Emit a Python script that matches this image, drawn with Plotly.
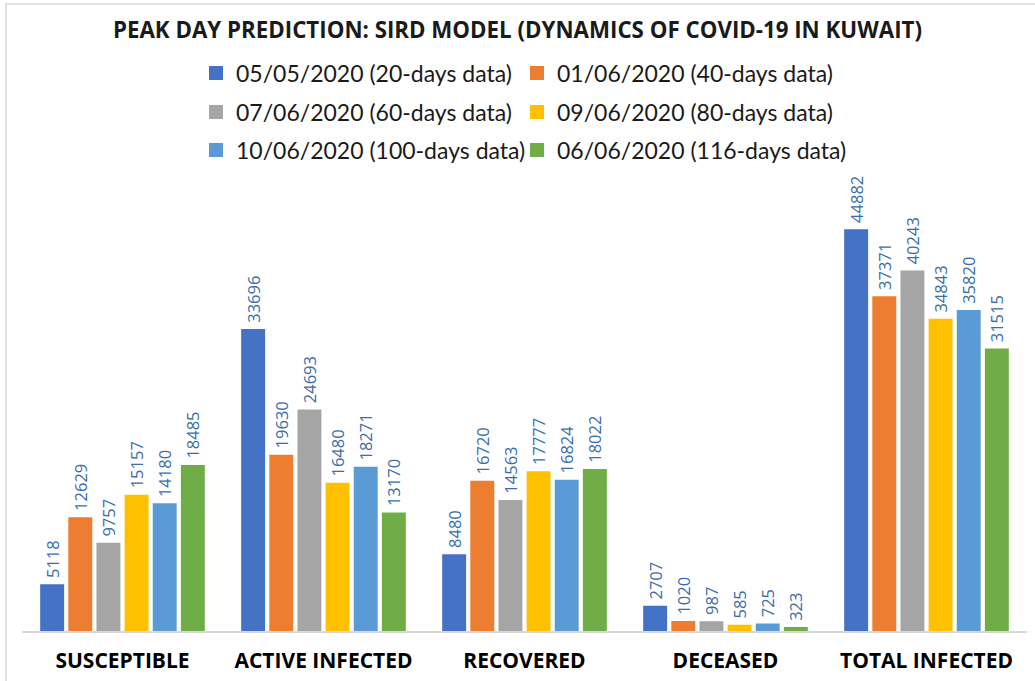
import plotly.graph_objects as go

categories = ["SUSCEPTIBLE", "ACTIVE INFECTED", "RECOVERED", "DECEASED", "TOTAL INFECTED"]
series_names = [
    "05/05/2020 (20-days data)",
    "01/06/2020 (40-days data)",
    "07/06/2020 (60-days data)",
    "09/06/2020 (80-days data)",
    "10/06/2020 (100-days data)",
    "06/06/2020 (116-days data)",
]
s20 = [5118, 33696, 8480, 2707, 44882]
s40 = [12629, 19630, 16720, 1020, 37371]
s60 = [9757, 24693, 14563, 987, 40243]
s80 = [15157, 16480, 17777, 585, 34843]
s100 = [14180, 18271, 16824, 725, 35820]
s116 = [18485, 13170, 18022, 323, 31515]
series_values = [s20, s40, s60, s80, s100, s116]
colors = ["#4472C4", "#ED7D31", "#A5A5A5", "#FFC000", "#5B9BD5", "#70AD47"]
legend_ids = ["legend", "legend2", "legend3", "legend4", "legend5", "legend6"]

fig = go.Figure()
for name, vals, col, lg in zip(series_names, series_values, colors, legend_ids):
    fig.add_trace(go.Bar(
        name=name, x=categories, y=vals,
        marker=dict(color=col, line=dict(color=col, width=2)),
        text=["\u00a0" + str(v) for v in vals], textposition="outside", textangle=-90,
        textfont=dict(family="Open Sans", size=16.5, color="#3B6EA8"),
        constraintext="none", cliponaxis=False, legend=lg, showlegend=True,
    ))

leg_font = dict(family="Lato", size=23, color="#1a1a1a")
def leg(xpx, ypx):
    return dict(
        orientation="h", x=xpx / 1035, xanchor="left", xref="container",
        y=1 - ypx / 681, yref="container", yanchor="middle",
        font=leg_font, itemwidth=30, bgcolor="rgba(0,0,0,0)",
    )

c1, c2 = 196, 517
fig.update_layout(
    width=1035, height=681, showlegend=True,
    paper_bgcolor="white", plot_bgcolor="white",
    barmode="group", bargap=0.16, bargroupgap=0.22,
    margin=dict(l=22, r=8, t=200, b=50),
    title=dict(
        text="<b>PEAK DAY PREDICTION: SIRD MODEL (DYNAMICS OF COVID-19 IN KUWAIT)</b>",
        x=0.5, xanchor="center", y=1 - 30 / 681, yanchor="middle",
        font=dict(family="Open Sans", size=22.3, color="#1a1a1a"),
    ),
    legend=leg(c1, 73), legend2=leg(c2, 73),
    legend3=leg(c1, 112), legend4=leg(c2, 112),
    legend5=leg(c1, 150), legend6=leg(c2, 150),
    xaxis=dict(
        showline=True, linecolor="#D9D9D9", linewidth=1.5,
        tickfont=dict(family="Open Sans", size=21, color="#000000"),
        ticks="", showgrid=False, ticklabelstandoff=10,
    ),
    yaxis=dict(visible=False, range=[0, 48260], showgrid=False),
    shapes=[dict(type="rect", xref="paper", yref="paper",
                 x0=-0.0159, x1=1.02, y0=-0.2, y1=1.455,
                 line=dict(color="#D9D9D9", width=1.5), layer="below")],
)
fig.update_xaxes(tickvals=categories, ticktext=["<b>" + c + "</b>" for c in categories])

fig.write_html("out.html", config={"displayModeBar": False},
               post_script="document.body.style.margin='0';")
